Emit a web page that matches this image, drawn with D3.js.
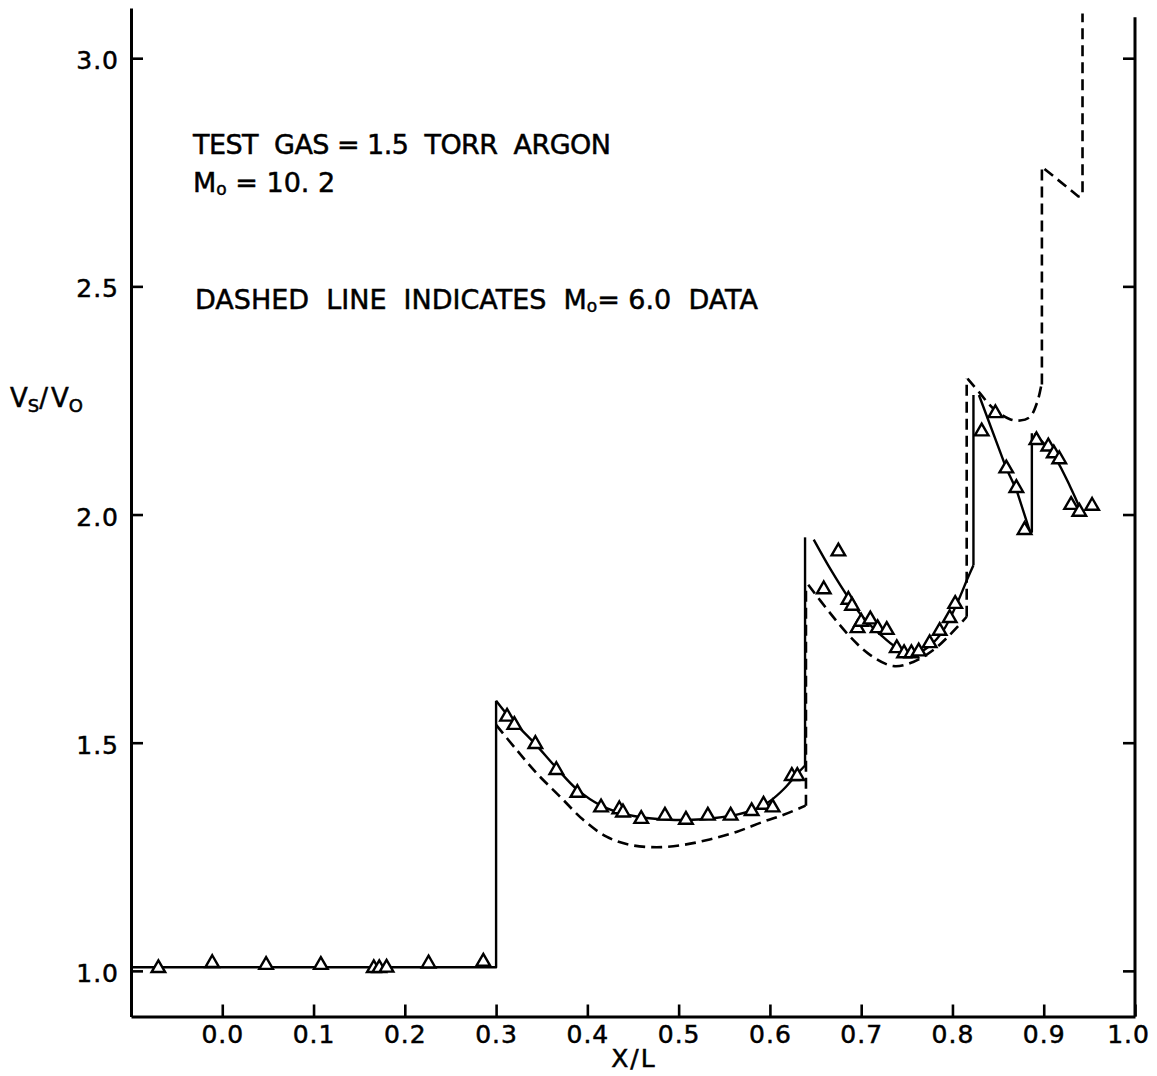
<!DOCTYPE html>
<html>
<head>
<meta charset="utf-8">
<script src="https://cdn.jsdelivr.net/npm/d3@7"></script>
<style>
  html, body { margin: 0; padding: 0; background: #fff; }
  svg { display: block; }
  text { font-family: "DejaVu Sans", "Liberation Sans", sans-serif; fill: #000; stroke: #000; stroke-width: 0.5px; }
</style>
</head>
<body>
<svg id="chart" width="1157" height="1076"></svg>
<script>
// ---- axis ticks ----
const xTicks = [0.0, 0.1, 0.2, 0.3, 0.4, 0.5, 0.6, 0.7, 0.8, 0.9, 1.0];
const yTicks = [1.0, 1.5, 2.0, 2.5, 3.0];

// ---- measured shock velocity, M0 = 10.2 (triangles) ----
const measuredX = [
  -0.070, -0.011, 0.048, 0.108, 0.166, 0.172, 0.180, 0.226, 0.286,
  0.312, 0.320, 0.343, 0.366, 0.389, 0.415, 0.435, 0.439, 0.459, 0.485,
  0.508, 0.532, 0.557, 0.580, 0.593, 0.603, 0.624, 0.630,
  0.659, 0.675, 0.686, 0.690, 0.696, 0.700, 0.710, 0.718, 0.728, 0.739,
  0.747, 0.755, 0.763, 0.775, 0.786, 0.797, 0.803,
  0.832, 0.847, 0.859, 0.870, 0.879,
  0.892, 0.905, 0.911, 0.917, 0.930, 0.939, 0.953
];
const measuredV = [
  1.006, 1.017, 1.013, 1.013, 1.006, 1.006, 1.007, 1.016, 1.020,
  1.557, 1.539, 1.497, 1.440, 1.390, 1.358, 1.354, 1.347, 1.333, 1.340,
  1.331, 1.340, 1.340, 1.350, 1.364, 1.358, 1.427, 1.427,
  1.836, 1.919, 1.813, 1.800, 1.751, 1.765, 1.770, 1.751, 1.747, 1.707,
  1.696, 1.696, 1.700, 1.718, 1.745, 1.773, 1.804,
  2.182, 2.222, 2.101, 2.058, 1.966,
  2.163, 2.149, 2.134, 2.121, 2.021, 2.006, 2.019
];

// ---- faired curve through the M0 = 10.2 data (solid) ----
const solidPlateau = [[-0.1, 1.008], [0.3, 1.008], [0.3, 1.592]];
const solidBay1 = [
  [0.3, 1.592], [0.312, 1.562], [0.322, 1.540], [0.343, 1.497], [0.366, 1.445],
  [0.389, 1.397], [0.415, 1.362], [0.44, 1.344], [0.465, 1.335], [0.49, 1.331],
  [0.515, 1.331], [0.54, 1.335], [0.565, 1.343], [0.585, 1.355], [0.60, 1.372],
  [0.615, 1.398], [0.63, 1.432], [0.6385, 1.45]
];
const solidStep1 = [[0.6385, 1.45], [0.6385, 1.95]];
const solidBay2 = [
  [0.648, 1.945], [0.667, 1.878], [0.686, 1.818], [0.702, 1.775], [0.721, 1.737],
  [0.739, 1.708], [0.757, 1.694], [0.775, 1.712], [0.790, 1.746], [0.805, 1.805],
  [0.817, 1.862], [0.823, 1.889]
];
const solidStep2 = [[0.823, 1.889], [0.823, 2.262]];
const solidDrop1 = [
  [0.829, 2.262], [0.859, 2.101], [0.870, 2.055], [0.885, 1.962],
  [0.887, 1.962], [0.887, 2.178]
];
const solidDrop2 = [[0.890, 2.178], [0.903, 2.149], [0.914, 2.120], [0.929, 2.061], [0.941, 2.008]];

// ---- M0 = 6.0 data (dashed) ----
const dashBay1 = [
  [0.3, 1.539], [0.3226, 1.484], [0.3445, 1.433], [0.370, 1.382], [0.3955, 1.331],
  [0.421, 1.294], [0.447, 1.276], [0.476, 1.271], [0.505, 1.276], [0.534, 1.288],
  [0.564, 1.305], [0.593, 1.327], [0.615, 1.342], [0.639, 1.362]
];
const dashStep1 = [[0.6395, 1.362], [0.6395, 1.846]];
const dashBay2 = [
  [0.642, 1.846], [0.666, 1.784], [0.688, 1.732], [0.710, 1.692], [0.735, 1.668],
  [0.757, 1.677], [0.779, 1.703], [0.797, 1.736], [0.8156, 1.776]
];
const dashStep2 = [[0.8156, 1.776], [0.8156, 2.298]];
const dashDip = [
  [0.8165, 2.298], [0.830, 2.266], [0.845, 2.232], [0.863, 2.209], [0.874, 2.206],
  [0.885, 2.214], [0.893, 2.247], [0.8975, 2.285]
];
const dashTail = [[0.898, 2.285], [0.898, 2.762], [0.938, 2.697], [0.9425, 2.700], [0.9425, 3.098]];

// ---- layout ----
const svg = d3.select("#chart");
const x = d3.scaleLinear().domain([-0.1, 1.0]).range([131, 1135]);
const y = d3.scaleLinear().domain([0.9, 3.11]).range([1016.5, 8]);

svg.append("rect").attr("width", 1157).attr("height", 1076).attr("fill", "#fff");

const fmt = d3.format(".1f");

// left axis, ticks pointing inward
const gLeft = svg.append("g")
  .attr("transform", `translate(${x(-0.1)},0)`)
  .call(d3.axisLeft(y).tickValues(yTicks).tickSize(-12).tickSizeOuter(0).tickPadding(12).tickFormat(fmt));

// bottom axis
const gBottom = svg.append("g")
  .attr("transform", `translate(0,${y(0.9)})`)
  .call(d3.axisBottom(x).tickValues(xTicks).tickSize(-12).tickSizeOuter(0).tickPadding(9).tickFormat(fmt));

// right axis: ticks only, no labels
const gRight = svg.append("g")
  .attr("transform", `translate(${x(1.0)},0)`)
  .call(d3.axisRight(y).tickValues(yTicks).tickSize(-12).tickSizeOuter(0).tickFormat(""));
gRight.select(".domain").remove();
gRight.append("line")
  .attr("x1", 0).attr("x2", 0)
  .attr("y1", y(0.9)).attr("y2", y(3.09))
  .attr("stroke", "#000").attr("stroke-width", 3);

[gLeft, gBottom, gRight].forEach(g => {
  g.attr("font-family", null).attr("font-size", null);
  g.selectAll(".domain").attr("stroke", "#000").attr("stroke-width", 3);
  g.selectAll(".tick line").attr("stroke", "#000").attr("stroke-width", 2.6);
  g.selectAll(".tick text")
    .style("font-size", "25px")
    .style("letter-spacing", "1px")
    .attr("fill", "#000");
});
gLeft.selectAll(".tick text").attr("dy", "0.42em");
// the last label sits at the right axis; pull it in from the page edge
gBottom.selectAll(".tick text").filter(d => d === 1.0).attr("dx", "-7px");

// ---- curves ----
const smooth = d3.line().x(d => x(d[0])).y(d => y(d[1])).curve(d3.curveCatmullRom.alpha(0.5));
const straight = d3.line().x(d => x(d[0])).y(d => y(d[1]));

const gCurves = svg.append("g")
  .attr("fill", "none").attr("stroke", "#000")
  .attr("stroke-linejoin", "round");

const solidPieces = [
  [solidPlateau, straight], [solidBay1, smooth], [solidStep1, straight],
  [solidBay2, smooth], [solidStep2, straight], [solidDrop1, straight], [solidDrop2, smooth]
];
solidPieces.forEach(([pts, gen]) => {
  gCurves.append("path").attr("d", gen(pts)).attr("stroke-width", 2.4);
});

const dashedPieces = [
  [dashBay1, smooth], [dashStep1, straight], [dashBay2, smooth],
  [dashStep2, straight], [dashDip, smooth], [dashTail, straight]
];
dashedPieces.forEach(([pts, gen]) => {
  gCurves.append("path").attr("d", gen(pts))
    .attr("stroke-width", 2.6)
    .attr("stroke-dasharray", "11,6");
});

// ---- measured points ----
const tri = d3.symbol().type(d3.symbolTriangle).size(80);
svg.append("g").selectAll("path")
  .data(measuredX.map((d, i) => [d, measuredV[i]]))
  .join("path")
  .attr("d", tri)
  .attr("transform", d => `translate(${x(d[0])},${y(d[1])})`)
  .attr("fill", "#fff").attr("stroke", "#000").attr("stroke-width", 2.4)
  .attr("stroke-linejoin", "miter");

// ---- axis titles ----
svg.append("text")
  .attr("x", x(0.451)).attr("y", 1067)
  .attr("text-anchor", "middle")
  .style("font-size", "25px").style("letter-spacing", "2px")
  .text("X/L");

const yl = svg.append("text").attr("x", 10).attr("y", 407).style("font-size", "26px");
yl.append("tspan").text("V");
yl.append("tspan").attr("dy", 5).style("font-size", "18px").text("S");
yl.append("tspan").attr("dy", -5).text("/");
yl.append("tspan").attr("dx", 3).text("V");
yl.append("tspan").attr("dy", 5).style("font-size", "18px").text("O");

// ---- annotations ----
const nb = "\u00a0";
const note = svg.append("g").style("font-size", "27px");
note.append("text").attr("x", 193).attr("y", 154)
  .attr("textLength", 418).attr("lengthAdjust", "spacing")
  .text(`TEST${nb}${nb}GAS = 1.5${nb}${nb}TORR${nb}${nb}ARGON`);

const m1 = note.append("text").attr("x", 193).attr("y", 192);
m1.append("tspan").text("M");
m1.append("tspan").attr("dy", 3).style("font-size", "17px").text("o");
m1.append("tspan").attr("dy", -3).text(` = 10.${nb}2`);

const m2 = note.append("text").attr("x", 195).attr("y", 309)
  .attr("textLength", 563).attr("lengthAdjust", "spacing");
m2.append("tspan").text(`DASHED${nb}${nb}LINE${nb}${nb}INDICATES${nb}${nb}M`);
m2.append("tspan").attr("dy", 3).style("font-size", "17px").text("o");
m2.append("tspan").attr("dy", -3).text(`=${nb}6.0${nb}${nb}DATA`);
</script>
</body>
</html>
